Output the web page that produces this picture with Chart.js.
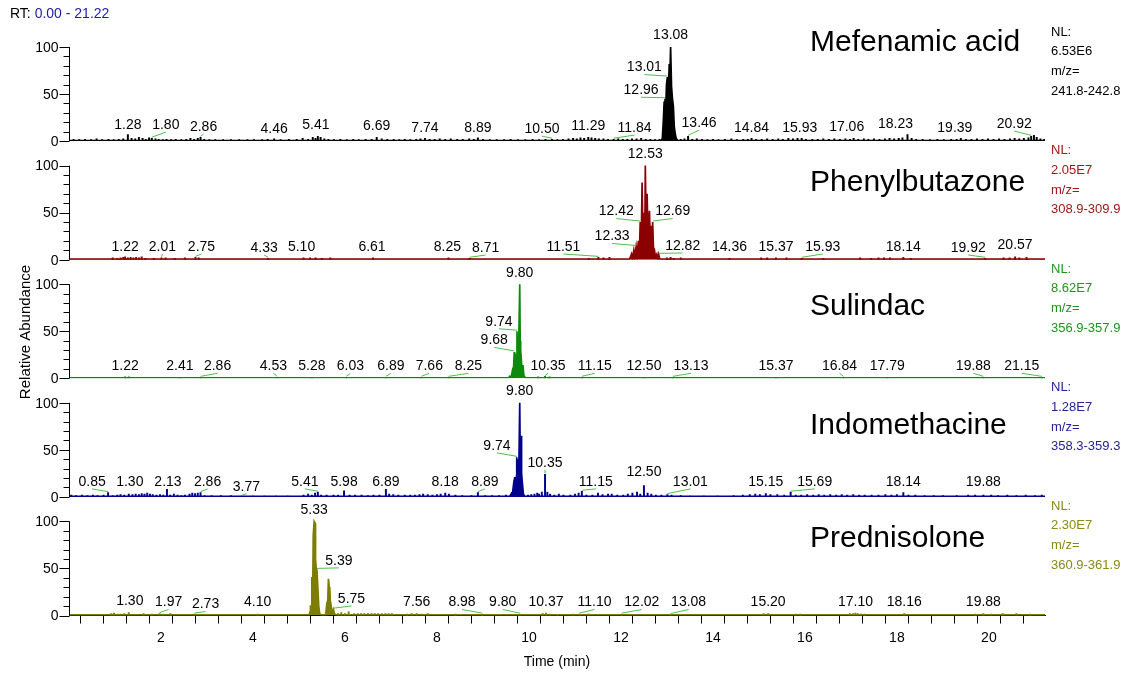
<!DOCTYPE html>
<html><head><meta charset="utf-8">
<script src="https://cdn.jsdelivr.net/npm/chart.js@4.4.1/dist/chart.umd.min.js"></script>
<style>html,body{margin:0;padding:0;background:#fff;}canvas{display:block;}</style>
</head><body>
<canvas id="c" width="1128" height="677"></canvas>
<script>
// ---------------- DATA ----------------
const rtRange = ['0.00', '21.22'];
const timeTickLabels = ['2','4','6','8','10','12','14','16','18','20'];
const abundanceTickLabels = ['0','50','100'];
const compoundNames = ['Mefenamic acid','Phenylbutazone','Sulindac','Indomethacine','Prednisolone'];
const nlValues = ['6.53E6','2.05E7','8.62E7','1.28E7','2.30E7'];
const mzRanges = ['241.8-242.8','308.9-309.9','356.9-357.9','358.3-359.3','360.9-361.9'];

// traces: [retention time (min), relative abundance (%)]
const mefTrace = [[0,0.6],[12.88,0.6],[12.90,3],[12.92,20],[12.94,42],[12.95,30],[12.96,45],[12.97,28],[12.99,60],[13.01,68],[13.03,50],[13.05,82],[13.06,60],[13.08,100],[13.10,58],[13.12,45],[13.14,37],[13.16,15],[13.18,8],[13.20,3],[13.23,0.6],[21.22,0.6]];
const pheTrace = [[0,0.6],[12.18,0.6],[12.20,2],[12.23,6],[12.25,1],[12.28,10],[12.30,3],[12.33,14],[12.35,5],[12.38,20],[12.40,8],[12.42,40],[12.44,15],[12.46,82],[12.48,20],[12.50,50],[12.52,25],[12.53,100],[12.55,30],[12.57,70],[12.59,20],[12.62,52],[12.64,15],[12.66,36],[12.67,12],[12.69,40],[12.71,8],[12.73,10],[12.75,3],[12.78,6],[12.80,1],[12.82,5.7],[12.84,1],[12.87,0.6],[21.22,0.6]];
const sulTrace = [[0,0.6],[9.56,0.6],[9.58,2],[9.60,1],[9.62,3],[9.64,8],[9.66,4],[9.68,28],[9.69,12],[9.71,26],[9.72,15],[9.74,50],[9.75,22],[9.77,35],[9.78,45],[9.80,100],[9.81,40],[9.82,30],[9.84,16],[9.85,5],[9.87,14],[9.89,3],[9.92,0.6],[21.22,0.6]];
const indTrace = [[0,0.6],[9.58,0.6],[9.60,2],[9.62,4],[9.64,3],[9.66,11],[9.67,6],[9.69,21],[9.70,10],[9.72,18],[9.73,10],[9.74,42],[9.75,20],[9.77,40],[9.78,30],[9.80,100],[9.81,45],[9.82,30],[9.83,65],[9.84,25],[9.86,13],[9.88,3],[9.91,0.6],[21.22,0.6]];
const predTrace = [[0,0.6],[5.22,0.6],[5.24,4],[5.25,11],[5.27,5],[5.28,41],[5.30,30],[5.31,85],[5.33,100],[5.35,98],[5.36,60],[5.38,47],[5.39,49],[5.41,30],[5.43,10],[5.45,2],[5.48,0.6],[5.58,0.6],[5.60,10],[5.62,5],[5.64,39],[5.66,30],[5.67,28],[5.69,8],[5.70,10],[5.72,3],[5.75,6.7],[5.77,2],[5.80,0.6],[21.22,0.6]];

// baseline noise sticks: [retention time (min), relative abundance (%)]
const mefNoise = [[0.10,2],[0.22,1.5],[0.35,2],[0.48,1.5],[0.60,2.5],[0.72,1.5],[0.86,2],[0.97,1.5],[1.08,2],[1.18,2.5],[1.28,7],[1.36,3],[1.44,2.5],[1.52,4],[1.60,3],[1.67,2],[1.74,3.5],[1.80,3],[1.88,2.5],[1.95,2],[2.04,1.5],[2.12,2],[2.22,1.5],[2.32,2],[2.44,1.5],[2.55,2],[2.64,3],[2.72,2],[2.80,3],[2.86,4],[2.94,2],[3.05,1.5],[3.18,1.5],[3.35,1.5],[3.52,1.5],[3.70,1.5],[3.88,1.5],[4.02,1.5],[4.20,1.5],[4.32,2],[4.46,2.5],[4.60,1.5],[4.78,2],[4.95,2],[5.08,3],[5.20,2],[5.30,4],[5.36,3],[5.41,5],[5.47,4],[5.55,2.5],[5.64,2],[5.76,1.5],[5.90,2],[6.04,1.5],[6.18,2],[6.30,1.5],[6.45,2],[6.58,2],[6.69,4],[6.80,2.5],[6.92,2],[7.06,2],[7.18,1.5],[7.30,2],[7.42,1.5],[7.55,2],[7.64,2.5],[7.74,3],[7.84,2],[7.95,2],[8.06,2.5],[8.18,2],[8.30,2.5],[8.44,2],[8.56,2],[8.70,2.5],[8.80,2],[8.89,3.5],[9.00,2],[9.15,1.5],[9.30,1.5],[9.46,1.5],[9.60,2],[9.76,1.5],[9.92,1.5],[10.08,2],[10.22,1.5],[10.36,2],[10.50,2],[10.62,1.5],[10.74,2],[10.86,2.5],[10.96,3],[11.04,2.5],[11.12,3.5],[11.20,3],[11.29,4],[11.36,3.5],[11.44,3],[11.52,2.5],[11.62,2.5],[11.72,2],[11.84,2],[11.94,2.5],[12.04,2],[12.14,2],[12.24,2.5],[12.34,2.5],[12.44,3],[12.54,2],[12.64,2],[12.74,1.5],[12.84,2],[13.30,2],[13.38,2.5],[13.46,5],[13.55,2],[13.65,2.5],[13.76,2],[13.88,1.5],[14.00,2],[14.12,1.5],[14.26,2],[14.40,2.5],[14.52,1.5],[14.66,2],[14.76,2],[14.84,3],[14.94,2],[15.06,2],[15.18,2.5],[15.30,2],[15.42,2.5],[15.52,2],[15.64,3],[15.74,2.5],[15.84,3],[15.93,3],[16.02,2],[16.16,2],[16.28,2],[16.40,2.5],[16.52,2],[16.64,2.5],[16.76,2],[16.88,2.5],[16.98,2],[17.06,3],[17.16,2],[17.28,2.5],[17.38,2],[17.50,2.5],[17.62,2],[17.74,2.5],[17.84,3],[17.94,2.5],[18.04,3],[18.12,3.5],[18.23,7],[18.32,3],[18.42,2],[18.56,2],[18.72,1.5],[18.88,2],[19.02,1.5],[19.18,2],[19.30,2],[19.39,3],[19.50,2],[19.62,2],[19.74,2.5],[19.86,2],[19.98,2.5],[20.10,2],[20.22,2.5],[20.34,2],[20.46,2.5],[20.56,3],[20.66,2.5],[20.76,3],[20.86,3.5],[20.92,5],[20.98,6],[21.04,4],[21.12,2.5],[21.20,2]];
const pheNoise = [[0.95,2],[1.05,1.5],[1.12,2],[1.18,2.5],[1.22,3],[1.28,2],[1.34,2.5],[1.40,2],[1.46,2.5],[1.52,2],[1.58,3],[1.66,1.5],[1.85,1.5],[2.01,2],[2.10,2],[2.30,1.5],[2.52,2],[2.75,2.5],[2.82,2],[4.33,1.5],[5.10,2],[5.24,2],[5.36,2],[5.50,1.5],[5.68,2],[6.61,2],[8.25,2],[8.71,1.5],[11.30,1.5],[11.51,2.5],[11.62,2],[11.75,2.5],[13.00,2],[13.08,2.5],[13.15,1.5],[13.30,2],[14.36,1.5],[15.05,2],[15.18,2],[15.37,2],[15.60,2],[15.93,1.5],[16.40,1.5],[17.20,2],[17.44,1.5],[17.60,2],[17.72,2],[17.85,2],[18.14,2.5],[18.30,1.5],[19.92,1.5],[20.32,2],[20.45,2],[20.57,3],[20.66,2],[20.82,2.5]];
const sulNoise = [[1.22,1.5],[1.30,1.5],[2.41,1],[2.86,1],[4.53,1],[5.28,1],[6.03,1],[6.89,1],[7.66,1],[8.25,1],[10.20,1.5],[10.35,2],[10.45,1.5],[11.15,1],[12.50,1],[13.13,1],[15.37,1],[16.84,1],[17.79,1],[19.88,1],[21.15,1]];
const indNoise = [[0.05,2],[0.15,1.5],[0.28,2],[0.40,1.5],[0.52,2],[0.62,1.5],[0.75,2],[0.85,4.5],[0.95,1.5],[1.05,2],[1.12,2.5],[1.20,2],[1.30,3],[1.38,2.5],[1.45,3],[1.52,2.5],[1.58,3.5],[1.64,3],[1.70,4],[1.76,3],[1.82,2.5],[1.90,2],[1.98,2.5],[2.05,2],[2.13,8],[2.20,2],[2.28,3],[2.36,2],[2.44,1.5],[2.52,2],[2.62,3],[2.68,4],[2.74,3.5],[2.80,4],[2.86,4.5],[2.95,1.5],[3.10,1.5],[3.30,1.5],[3.52,1.5],[3.77,1],[4.00,1],[4.25,1],[4.50,1],[4.75,1],[5.10,2],[5.20,3],[5.28,2],[5.35,4],[5.41,5],[5.48,2],[5.60,2],[5.75,2],[5.85,2],[5.98,6.5],[6.10,2],[6.22,2],[6.36,2],[6.50,1.5],[6.62,2],[6.75,2],[6.89,8],[6.96,3],[7.05,2.5],[7.16,2],[7.30,2],[7.42,2],[7.52,2],[7.62,2.5],[7.70,3],[7.80,2.5],[7.90,2],[8.00,2.5],[8.08,3],[8.18,4],[8.26,3],[8.40,2],[8.55,1.5],[8.75,1.5],[8.89,4.5],[9.05,1.5],[9.20,1.5],[9.35,1.5],[9.50,2],[9.98,2],[10.05,2.5],[10.12,3],[10.18,4],[10.22,3],[10.28,5],[10.35,24],[10.40,5],[10.46,3],[10.55,2],[10.65,3],[10.75,2],[10.90,2],[11.00,3],[11.08,4],[11.15,6],[11.25,2],[11.38,2],[11.50,4],[11.60,2.5],[11.72,3],[11.80,3],[11.92,2],[12.05,2],[12.15,3],[12.25,4],[12.35,5],[12.42,3],[12.50,12],[12.58,4],[12.66,3],[12.76,2],[12.88,2],[13.01,2.5],[13.10,2],[13.30,1.5],[13.50,1],[13.80,1],[14.10,1],[14.45,1.5],[14.65,2],[14.80,2.5],[14.92,3],[15.02,2.5],[15.15,3.5],[15.25,2.5],[15.40,2.5],[15.55,2],[15.69,5],[15.80,2],[15.92,2],[16.05,2.5],[16.18,2],[16.30,2.5],[16.42,2],[16.55,2.5],[16.68,2],[16.80,2.5],[16.92,2],[17.05,2.5],[17.18,2],[17.30,2],[17.45,2],[17.60,2],[17.75,2.5],[17.88,2],[18.00,2.5],[18.14,4.5],[18.25,2],[18.40,2],[18.60,1.5],[18.80,1.5],[19.00,1.5],[19.30,1.5],[19.55,2],[19.70,2],[19.88,2],[20.05,2],[20.20,1.5],[20.40,2],[20.60,1.5],[20.80,2],[21.00,1.5],[21.15,2]];
const predNoise = [[0.92,2],[0.98,2.5],[1.05,1.5],[1.12,1.5],[1.20,2],[1.30,3],[1.62,2],[1.80,1.5],[1.97,2],[2.05,1.5],[2.20,2],[2.73,1.5],[4.10,1.5],[5.85,2],[5.92,3],[6.00,2],[6.08,4],[6.20,2],[6.28,2],[6.35,2],[6.42,2],[6.50,2],[6.58,2],[6.65,2],[6.72,2],[6.80,2],[6.88,2],[6.95,2],[7.02,2],[7.35,1.5],[7.45,2],[7.56,2],[7.68,1.5],[7.80,2],[8.40,1.5],[8.98,1.5],[9.80,1.5],[10.30,2],[10.37,2.5],[10.45,1.5],[10.95,1.5],[11.10,1.5],[11.30,1.5],[12.02,1.5],[13.08,1],[15.10,2],[15.20,2],[15.80,1.5],[15.90,1.5],[16.98,2],[17.05,2],[17.10,2.5],[17.15,2],[17.22,1.5],[17.30,1.5],[18.16,2],[19.70,1.5],[19.88,2],[20.05,1.5],[20.30,2],[20.60,2],[20.90,1.5]];

// annotated retention times
const mefPeakLabels = ['1.28','1.80','2.86','4.46','5.41','6.69','7.74','8.89','10.50','11.29','11.84','12.96','13.01','13.08','13.46','14.84','15.93','17.06','18.23','19.39','20.92'];
const phePeakLabels = ['1.22','2.01','2.75','4.33','5.10','6.61','8.25','8.71','11.51','12.33','12.42','12.53','12.69','12.82','14.36','15.37','15.93','18.14','19.92','20.57'];
const sulPeakLabels = ['1.22','2.41','2.86','4.53','5.28','6.03','6.89','7.66','8.25','9.68','9.74','9.80','10.35','11.15','12.50','13.13','15.37','16.84','17.79','19.88','21.15'];
const indPeakLabels = ['0.85','1.30','2.13','2.86','3.77','5.41','5.98','6.89','8.18','8.89','9.74','9.80','10.35','11.15','12.50','13.01','15.15','15.69','18.14','19.88'];
const predPeakLabels = ['1.30','1.97','2.73','4.10','5.33','5.39','5.75','7.56','8.98','9.80','10.37','11.10','12.02','13.08','15.20','17.10','18.16','19.88'];

// ---------------- STYLE / LAYOUT ----------------
const FONT = '"Liberation Sans", Arial, Helvetica, sans-serif';
const panelIds = ['p1','p2','p3','p4','p5'];
const traceColors = ['#000000','#8b0000','#0d8a0d','#00008b','#7d7d00'];
const infoColors = ['#000000','#a01818','#1c961c','#24249a','#8a8a12'];
const labelLift = [13, 12.7, 12, 15, 13];
const nameDy = [-4, 17, 23, 23, 17];
// label placement offsets: [dx px, dy px, leader line]
const mefPlace = {'1.28':[0,-3,0],'1.80':[14,-3,1],'2.86':[3,-1,1],'4.46':[0,1,0],'5.41':[-2,-3,0],'6.69':[0,-2,0],'7.74':[0,0,0],'8.89':[0,0,0],'10.50':[-10,1,1],'11.29':[0,-2,0],'11.84':[21,0,1],'12.96':[-24,3,1],'13.01':[-23,2,1],'13.08':[0,0,0],'13.46':[11,-5,1],'14.84':[0,0,0],'15.93':[-2,0,0],'17.06':[-7,-1,0],'18.23':[-12,-4,0],'19.39':[-6,0,0],'20.92':[-17,-4,1]};
const phePlace = {'2.01':[1,0,1],'2.75':[6,0,1],'4.33':[-4,1,1],'5.10':[-2,0,0],'6.61':[-1,0,0],'8.25':[-1,0,0],'8.71':[16,1,1],'11.51':[-35,0,1],'12.33':[-24,1.5,1],'12.42':[-24,1,1],'12.69':[20,1,1],'12.82':[24,-1,1],'15.93':[21,0,1],'19.92':[-17,1,1],'20.57':[0,-2,0]};
const sulPlace = {'2.86':[17,0,1],'4.53':[-4,0,1],'6.03':[4,0,1],'6.89':[5,0,1],'7.66':[8,0,1],'8.25':[20,0,1],'9.68':[-20,0,1],'9.74':[-18,2,1],'10.35':[3,0,1],'11.15':[13,0,1],'13.13':[18,0,1],'16.84':[-4,0,1],'19.88':[-10,0,1],'21.15':[-20,0,1]};
const indPlace = {'0.85':[-16,0,1],'1.30':[1,0,0],'2.13':[1,0,0],'2.86':[7,0,1],'3.77':[4,5,1],'5.41':[-13,0,1],'8.89':[7,0,1],'9.74':[-20,0,1],'10.35':[0,0,1],'11.15':[14,0,1],'12.50':[0,-2,0],'13.01':[23,0,1],'15.69':[24,0,1]};
const predPlace = {'1.30':[1,-1,0],'1.97':[9,0,1],'2.73':[11,2,1],'5.39':[22,3,1],'5.75':[18,-3.5,1],'8.98':[-20,0,1],'9.80':[-17,0,1],'11.10':[15,0,1],'12.02':[20,0,1],'13.08':[18,0,1]};

const panels = [
  {trace: mefTrace, noise: mefNoise, peaks: mefPeakLabels, place: mefPlace},
  {trace: pheTrace, noise: pheNoise, peaks: phePeakLabels, place: phePlace},
  {trace: sulTrace, noise: sulNoise, peaks: sulPeakLabels, place: sulPlace},
  {trace: indTrace, noise: indNoise, peaks: indPeakLabels, place: indPlace},
  {trace: predTrace, noise: predNoise, peaks: predPeakLabels, place: predPlace}
];

function peakHeight(p, t) {
  let h = 0;
  for (const [x, y] of p.trace) if (Math.abs(x - t) < 0.004) h = Math.max(h, y);
  for (const [x, y] of p.noise) if (Math.abs(x - t) < 0.004) h = Math.max(h, y);
  return h;
}

const datasets = [];
panels.forEach((p, i) => {
  datasets.push({type: 'line', data: p.trace.map(([x, y]) => ({x, y})), xAxisID: 'x', yAxisID: panelIds[i],
    borderColor: traceColors[i], backgroundColor: traceColors[i], borderWidth: 1.7, pointRadius: 0,
    fill: 'origin', tension: 0, order: 1});
  datasets.push({type: 'bar', data: p.noise.map(([x, y]) => ({x, y})), xAxisID: 'x', yAxisID: panelIds[i],
    backgroundColor: traceColors[i], borderWidth: 0, barThickness: 1.3, grouped: false, order: 2});
});

const scales = {
  x: {type: 'linear', position: 'bottom', min: 0, max: parseFloat(rtRange[1]), offset: false,
    ticks: {stepSize: 0.5, includeBounds: false, autoSkip: false, maxRotation: 0, minRotation: 0,
      color: '#000', font: {family: FONT, size: 14}, padding: 6,
      callback: v => timeTickLabels.includes(String(v)) ? String(v) : ''},
    grid: {display: true, drawOnChartArea: false, drawTicks: true, tickLength: 8, tickColor: '#000', tickWidth: 1},
    border: {display: true, color: '#000', width: 1},
    title: {display: true, text: 'Time (min)', color: '#000', font: {family: FONT, size: 14}, padding: {top: 4, bottom: 6}},
    afterFit: s => { s.height = 61.5; }
  }
};
for (let i = panelIds.length - 1; i >= 0; i--) {
  scales[panelIds[i]] = {type: 'linear', position: 'left', stack: 'rt', stackWeight: 1, min: 0, max: 126, offset: false,
    display: true, grid: {display: false}, border: {display: false}, ticks: {display: false},
    afterFit: s => { s.width = 69; }};
}

const overlay = {
  id: 'overlay',
  afterDraw(chart) {
    const ctx = chart.ctx, xs = chart.scales.x, area = chart.chartArea;
    ctx.save();
    // header
    ctx.font = '14px ' + FONT; ctx.textBaseline = 'middle'; ctx.textAlign = 'left';
    ctx.fillStyle = '#000'; ctx.fillText('RT:', 10, 14);
    const w = ctx.measureText('RT: ').width;
    ctx.fillStyle = '#1c1ca8'; ctx.fillText(rtRange[0] + ' - ' + rtRange[1], 10 + w, 14);
    // y title
    ctx.save(); ctx.translate(26, 332); ctx.rotate(-Math.PI / 2);
    ctx.font = '15px ' + FONT; ctx.textAlign = 'center'; ctx.fillStyle = '#000';
    ctx.fillText('Relative Abundance', 0, 0); ctx.restore();

    panels.forEach((p, i) => {
      const ys = chart.scales[panelIds[i]];
      const base = ys.getPixelForValue(0), top = ys.getPixelForValue(100);
      const ax0 = Math.round(area.left) + 0.5;
      ctx.strokeStyle = '#000'; ctx.lineWidth = 1;
      ctx.beginPath(); ctx.moveTo(ax0, base); ctx.lineTo(ax0, top); ctx.stroke();
      for (let v = 0; v <= 100; v += 10) {
        const yy = Math.round(ys.getPixelForValue(v)) + 0.5;
        const len = v % 50 === 0 ? 10 : 6;
        ctx.beginPath(); ctx.moveTo(ax0 - len, yy); ctx.lineTo(ax0, yy); ctx.stroke();
      }
      ctx.font = '14px ' + FONT; ctx.fillStyle = '#000'; ctx.textAlign = 'right'; ctx.textBaseline = 'middle';
      abundanceTickLabels.forEach(l => ctx.fillText(l, ax0 - 11, ys.getPixelForValue(parseFloat(l)) + 1));

      // peak labels
      ctx.textAlign = 'center';
      p.peaks.forEach(lbl => {
        const t = parseFloat(lbl), h = peakHeight(p, t);
        const [dx, dy, lead] = p.place[lbl] || [0, 0, 0];
        const ax = xs.getPixelForValue(t), ay = ys.getPixelForValue(h);
        const cy = (h > 8 ? ay - 11.5 : base - labelLift[i]) + dy;
        const cx = ax + dx;
        if (lead) {
          ctx.strokeStyle = '#4cc04c'; ctx.lineWidth = 1;
          ctx.beginPath(); ctx.moveTo(cx, cy + 7); ctx.lineTo(ax, ay - 1); ctx.stroke();
        }
        ctx.fillStyle = '#000'; ctx.fillText(lbl, cx, cy);
      });

      // compound name
      ctx.textAlign = 'left';
      ctx.font = '30px ' + FONT; ctx.fillStyle = '#000';
      ctx.fillText(compoundNames[i], area.right - 235, top + nameDy[i]);
      // NL info
      ctx.font = '13px ' + FONT; ctx.fillStyle = infoColors[i];
      const nx = area.right + 6;
      ctx.fillText('NL:', nx, top - 15);
      ctx.fillText(nlValues[i], nx, top + 4.5);
      ctx.fillText('m/z=', nx, top + 24.5);
      ctx.fillText(mzRanges[i], nx, top + 44);
    });
    ctx.restore();
  }
};

new Chart(document.getElementById('c'), {
  type: 'line',
  data: {datasets},
  options: {
    responsive: false, animation: false, devicePixelRatio: 1,
    layout: {padding: {left: 0, right: 83, top: 22.5, bottom: 0}},
    plugins: {legend: {display: false}, tooltip: {enabled: false}},
    scales
  },
  plugins: [overlay]
});
</script>
</body></html>
